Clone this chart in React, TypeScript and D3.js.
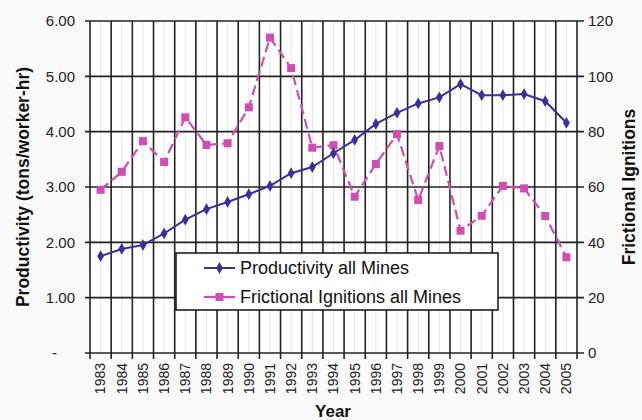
import React from "react";
import * as d3 from "d3";

const years: string[] = [
  "1983","1984","1985","1986","1987","1988","1989","1990","1991","1992","1993","1994",
  "1995","1996","1997","1998","1999","2000","2001","2002","2003","2004","2005",
];
const productivity: number[] = [
  1.75, 1.88, 1.95, 2.16, 2.41, 2.60, 2.73, 2.87, 3.02, 3.25, 3.36, 3.61,
  3.85, 4.14, 4.34, 4.51, 4.62, 4.86, 4.66, 4.66, 4.68, 4.55, 4.16,
];
const ignitions: number[] = [
  59, 65.5, 76.6, 69, 85.2, 75.2, 75.8, 88.8, 114, 103, 74.2, 75.1,
  56.5, 68.3, 79.1, 55.3, 74.8, 44.2, 49.6, 60.4, 59.5, 49.5, 34.6,
];
const leftTicks: number[] = [0, 1, 2, 3, 4, 5, 6];
const leftTickLabels: string[] = ["-", "1.00", "2.00", "3.00", "4.00", "5.00", "6.00"];
const rightTicks: number[] = [0, 20, 40, 60, 80, 100, 120];
const seriesNames: string[] = ["Productivity all Mines", "Frictional Ignitions all Mines"];

const W = 642, H = 420;
const L = 90, R = 577, T = 21, B = 353;
const BLUE = "#3a2f9f";
const MAG = "#d24cb6";
const GRID = "#222";
const FONT = "'Liberation Sans', Arial, sans-serif";

export default function App() {
  const x = d3.scaleBand<string>().domain(years).range([L, R]).padding(0);
  const yL = d3.scaleLinear().domain([0, 6]).range([B, T]);
  const yR = d3.scaleLinear().domain([0, 120]).range([B, T]);
  const bw = x.bandwidth();
  const cx = (yr: string) => (x(yr) as number) + bw / 2;

  const lineP = d3.line<number>().x((_, i) => cx(years[i])).y((d) => yL(d));
  const lineI = d3.line<number>().x((_, i) => cx(years[i])).y((d) => yR(d));

  const boundaries = years.map((y) => x(y) as number).concat([R]);
  const diamond = d3.symbol().type(d3.symbolDiamond).size(40)() as string;

  const legX = 176, legY = 253, legW = 322, legH = 57;

  return (
    <svg width={W} height={H} style={{ position: "absolute", left: 0, top: 0, background: "#fff" }} fontFamily={FONT}>
      <rect x={0} y={0} width={W} height={H} fill="#fafafa" />
      <rect x={L} y={T} width={R - L} height={B - T} fill="#fff" />
      {/* faint minor vertical lines */}
      {years.map((yr) => (
        <line key={"m" + yr} x1={cx(yr)} x2={cx(yr)} y1={T} y2={B} stroke="#e6e6e6" strokeWidth={1} />
      ))}
      {/* horizontal gridlines */}
      {leftTicks.map((t) => (
        <line key={"h" + t} x1={L - 5} x2={R + 7} y1={yL(t)} y2={yL(t)} stroke={GRID} strokeWidth={1.6} />
      ))}
      {/* vertical gridlines */}
      {boundaries.map((bx, i) => (
        <line key={"v" + i} x1={bx} x2={bx} y1={T} y2={B + 6} stroke={GRID} strokeWidth={1.6} />
      ))}
      {/* left tick labels */}
      {leftTicks.map((t, i) => (
        <text key={"lt" + t} x={t === 0 ? 57 : 75} y={yL(t)} dy="0.35em" textAnchor="end" fontSize={15} fill="#222">
          {leftTickLabels[i]}
        </text>
      ))}
      {/* right tick labels */}
      {rightTicks.map((t) => (
        <text key={"rt" + t} x={588} y={yR(t)} dy="0.35em" textAnchor="start" fontSize={15} fill="#222">
          {t}
        </text>
      ))}
      {/* x tick labels */}
      {years.map((yr) => (
        <text key={"xt" + yr} transform={`translate(${cx(yr)},${B + 10}) rotate(-90)`} dy="0.35em" textAnchor="end" fontSize={14} fill="#222">
          {yr}
        </text>
      ))}
      {/* axis titles */}
      <text transform={`translate(29,${(T + B) / 2}) rotate(-90)`} textAnchor="middle" fontSize={17.5} fontWeight="bold" fill="#111">
        Productivity (tons/worker-hr)
      </text>
      <text transform={`translate(635,${(T + B) / 2}) rotate(-90)`} textAnchor="middle" fontSize={17.5} fontWeight="bold" fill="#111">
        Frictional Ignitions
      </text>
      <text x={333} y={417} textAnchor="middle" fontSize={17} fontWeight="bold" fill="#111">
        Year
      </text>
      {/* series */}
      <path d={lineI(ignitions) as string} fill="none" stroke={MAG} strokeWidth={2.2} strokeDasharray="10,5" />
      {ignitions.map((v, i) => (
        <rect key={"iq" + i} x={cx(years[i]) - 4} y={yR(v) - 4} width={8} height={8} fill={MAG} />
      ))}
      <path d={lineP(productivity) as string} fill="none" stroke={BLUE} strokeWidth={2} />
      {productivity.map((v, i) => (
        <path key={"pd" + i} d={diamond} transform={`translate(${cx(years[i])},${yL(v)})`} fill={BLUE} />
      ))}
      {/* legend */}
      <rect x={legX} y={legY} width={legW} height={legH} fill="#fff" stroke="#111" strokeWidth={1.5} />
      <line x1={204} x2={235} y1={268} y2={268} stroke={BLUE} strokeWidth={2} />
      <path d={diamond} transform="translate(219.5,268)" fill={BLUE} />
      <text x={240} y={268} dy="0.35em" fontSize={18} fill="#111">{seriesNames[0]}</text>
      <line x1={204} x2={235} y1={297} y2={297} stroke={MAG} strokeWidth={2.2} />
      <rect x={215.5} y={293} width={8} height={8} fill={MAG} />
      <text x={240} y={297} dy="0.35em" fontSize={18} fill="#111">{seriesNames[1]}</text>
    </svg>
  );
}
